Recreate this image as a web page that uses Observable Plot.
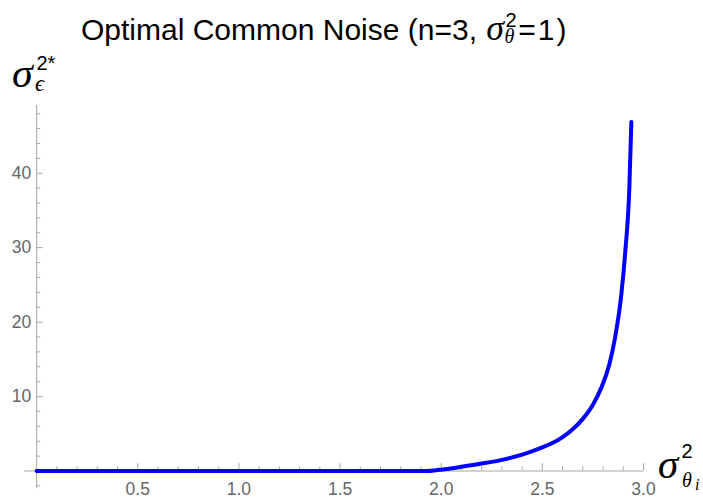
<!DOCTYPE html>
<html>
<head>
<meta charset="utf-8">
<script src="https://cdn.jsdelivr.net/npm/d3@7"></script>
<script src="https://cdn.jsdelivr.net/npm/@observablehq/plot@0.6"></script>
<style>
  html, body { margin: 0; padding: 0; background: #fff; }
  #chart { width: 703px; height: 498px; }
</style>
</head>
<body>
<div id="chart"></div>
<script>
// Curve values
const sigmaThetaI = [0, 0.5, 1.0, 1.5, 1.93, 1.97, 2.0, 2.1, 2.2, 2.3, 2.4, 2.5, 2.55, 2.6, 2.65, 2.7, 2.75, 2.79, 2.83, 2.86, 2.89, 2.91, 2.93, 2.94];
const sigmaEpsStar = [0, 0, 0, 0, 0, 0.08, 0.18, 0.57, 1.0, 1.5, 2.2, 3.18, 3.75, 4.55, 5.6, 7.0, 8.9, 11.1, 14.2, 18.0, 23.6, 29.5, 38.0, 46.9];

// Ticks
const xMajorTicks = [0.5, 1.0, 1.5, 2.0, 2.5, 3.0];
const xMinorTicks = [0.1, 0.2, 0.3, 0.4, 0.6, 0.7, 0.8, 0.9, 1.1, 1.2, 1.3, 1.4, 1.6, 1.7, 1.8, 1.9,
                     2.1, 2.2, 2.3, 2.4, 2.6, 2.7, 2.8, 2.9];
const yMajorTicks = [10, 20, 30, 40];
const yMinorTicks = [-2, 2, 4, 6, 8, 12, 14, 16, 18, 22, 24, 26, 28, 32, 34, 36, 38, 42, 44, 46, 48];

// Plot range
const xMin = -0.06, xMax = 3.0, yMin = -2.4, yMax = 49.1;

const data = sigmaThetaI.map((x, i) => ({x, y: sigmaEpsStar[i]}));

const axisColor = "#a6a6a6";
const labelColor = "#666666";

const svg = Plot.plot({
  width: 703,
  height: 498,
  marginTop: 105,
  marginBottom: 27.5,
  marginLeft: 24,
  marginRight: 60,
  x: {domain: [xMin, xMax], axis: null},
  y: {domain: [0, yMax], axis: null},
  style: {background: "#fff", fontFamily: "'Liberation Sans', Arial, sans-serif"},
  marks: [
    Plot.ruleY([0], {x1: xMin, x2: xMax, stroke: axisColor, strokeWidth: 1}),
    Plot.ruleX([0], {y1: yMin, y2: yMax, stroke: axisColor, strokeWidth: 1}),
    Plot.ruleX(xMajorTicks, {x: d => d, y1: 0, y2: 0.98, stroke: axisColor, strokeWidth: 1}),
    Plot.ruleX(xMinorTicks, {x: d => d, y1: 0, y2: 0.55, stroke: axisColor, strokeWidth: 1}),
    Plot.ruleY(yMajorTicks, {y: d => d, x1: 0, x2: 0.033, stroke: axisColor, strokeWidth: 1}),
    Plot.ruleY(yMinorTicks, {y: d => d, x1: 0, x2: 0.02, stroke: axisColor, strokeWidth: 1}),
    Plot.text(xMajorTicks, {x: d => d, y: 0, dy: 18.5, text: d => d.toFixed(1), fontSize: 17.5, fill: labelColor}),
    Plot.text(yMajorTicks, {x: 0, y: d => d, dx: -5.5, textAnchor: "end", text: d => String(d), fontSize: 17.5, fill: labelColor}),
    Plot.line(data, {x: "x", y: "y", stroke: "#0000ff", strokeWidth: 4, curve: "monotone-x", strokeLinecap: "round"})
  ]
});

document.getElementById("chart").appendChild(svg);

const s = d3.select(svg);
const sans = "'Liberation Sans', Arial, sans-serif";
const serif = "'Liberation Serif', 'Times New Roman', 'DejaVu Serif', serif";

function txt(x, y, str, size, family, italic) {
  return s.append("text")
    .attr("x", x).attr("y", y)
    .attr("text-anchor", "start")
    .attr("font-family", family)
    .attr("font-size", size)
    .attr("fill", "#000")
    .attr("font-style", italic ? "italic" : "normal")
    .text(str);
}

// Title
const t1 = txt(81, 39.5, "Optimal Common Noise (n=3, ", 30, sans, false);
let tx = 81 + t1.node().getComputedTextLength();
const tSig = txt(tx + 1, 39.5, "σ", 36, serif, true);
tx += tSig.node().getComputedTextLength() + 2.5;
const tSup = txt(tx, 27, "2", 20, sans, false);
const tSub = txt(tx - 1, 43, "θ", 20, serif, true);
tx += Math.max(tSup.node().getComputedTextLength(), tSub.node().getComputedTextLength()) + 1.5;
const tEnd = txt(tx, 39.5, "=1)", 30, sans, false);
tEnd.attr("letter-spacing", 2);

// Y axis label
txt(12, 86.5, "σ", 42, serif, true);
txt(36.5, 70, "2*", 20, sans, false);
txt(35, 91, "ϵ", 23, serif, true);

// X axis label
txt(658, 478, "σ", 41, serif, true);
txt(681.5, 458, "2", 20, sans, false);
txt(682, 487, "θ", 20, serif, true);
txt(695, 490, "i", 16, serif, true);
</script>
</body>
</html>
